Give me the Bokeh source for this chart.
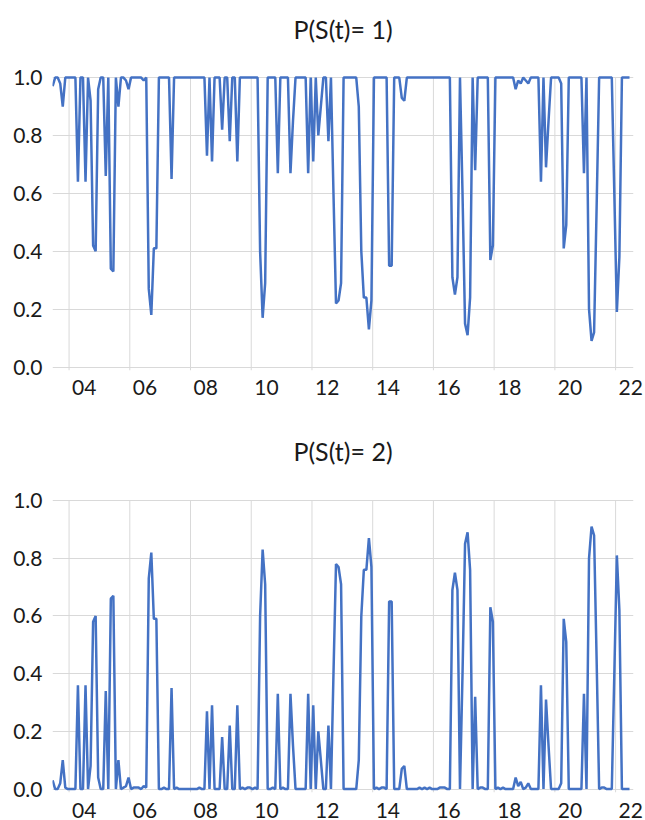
import pandas as pd
from bokeh.plotting import figure
from bokeh.layouts import column
from bokeh.models import Range1d, FixedTicker, NumeralTickFormatter
from bokeh.core.properties import value
from bokeh.embed import file_html
from bokeh.resources import INLINE

# Monthly observations, July 2003 .. July 2022
dates = pd.date_range("2003-07-01", periods=229, freq="MS")

p_state1 = [
    0.97, 1.0, 1.0, 0.98, 0.90, 1.0, 1.0, 1.0, 1.0, 1.0, 0.64, 1.0,
    1.0, 0.64, 1.0, 0.92, 0.42, 0.40, 0.96, 1.0, 1.0, 0.66, 1.0, 0.34,
    0.33, 1.0, 0.90, 1.0, 1.0, 0.99, 0.96, 1.0, 1.0, 1.0, 1.0, 1.0,
    0.99, 1.0, 0.27, 0.18, 0.41, 0.41, 1.0, 1.0, 1.0, 1.0, 1.0, 0.65,
    1.0, 1.0, 1.0, 1.0, 1.0, 1.0, 1.0, 1.0, 1.0, 1.0, 1.0, 1.0,
    1.0, 0.73, 1.0, 0.71, 1.0, 1.0, 1.0, 0.82, 1.0, 1.0, 0.78, 1.0,
    1.0, 0.71, 1.0, 1.0, 1.0, 1.0, 1.0, 1.0, 1.0, 1.0, 0.40, 0.17,
    0.29, 1.0, 1.0, 1.0, 1.0, 0.67, 1.0, 1.0, 1.0, 1.0, 0.67, 0.85,
    1.0, 1.0, 1.0, 1.0, 1.0, 0.67, 1.0, 0.71, 1.0, 0.80, 0.90, 1.0,
    1.0, 0.78, 1.0, 0.60, 0.22, 0.23, 0.29, 1.0, 1.0, 1.0, 1.0, 1.0,
    1.0, 0.90, 0.40, 0.24, 0.24, 0.13, 0.23, 1.0, 1.0, 1.0, 1.0, 1.0,
    1.0, 0.35, 0.35, 1.0, 1.0, 1.0, 0.93, 0.92, 1.0, 1.0, 1.0, 1.0,
    1.0, 1.0, 1.0, 1.0, 1.0, 1.0, 1.0, 1.0, 1.0, 1.0, 1.0, 1.0,
    1.0, 1.0, 0.31, 0.25, 0.31, 1.0, 0.60, 0.15, 0.11, 0.24, 1.0, 0.68,
    1.0, 1.0, 1.0, 1.0, 1.0, 0.37, 0.42, 1.0, 1.0, 1.0, 1.0, 1.0,
    1.0, 1.0, 1.0, 0.96, 0.99, 0.98, 1.0, 0.99, 0.98, 1.0, 1.0, 1.0,
    1.0, 0.64, 1.0, 0.69, 0.85, 1.0, 1.0, 1.0, 1.0, 0.98, 0.41, 0.49,
    1.0, 1.0, 1.0, 1.0, 1.0, 1.0, 0.67, 1.0, 0.20, 0.09, 0.12, 0.55,
    1.0, 1.0, 1.0, 1.0, 1.0, 1.0, 0.60, 0.19, 0.38, 1.0, 1.0, 1.0,
    1.0,
]

p_state2 = [
    0.03, 0.0, 0.0, 0.02, 0.10, 0.005, 0.0, 0.0, 0.0, 0.0, 0.36, 0.0,
    0.0, 0.36, 0.0, 0.08, 0.58, 0.60, 0.04, 0.0, 0.0, 0.34, 0.0, 0.66,
    0.67, 0.0, 0.10, 0.0, 0.005, 0.01, 0.04, 0.0, 0.005, 0.005, 0.005, 0.0,
    0.01, 0.005, 0.73, 0.82, 0.59, 0.59, 0.0, 0.0, 0.005, 0.0, 0.0, 0.35,
    0.0, 0.005, 0.0, 0.0, 0.0, 0.0, 0.0, 0.0, 0.0, 0.0, 0.005, 0.0,
    0.0, 0.27, 0.0, 0.29, 0.0, 0.0, 0.0, 0.18, 0.0, 0.0, 0.22, 0.0,
    0.0, 0.29, 0.0, 0.005, 0.0, 0.005, 0.005, 0.0, 0.005, 0.0, 0.60, 0.83,
    0.71, 0.0, 0.0, 0.005, 0.0, 0.33, 0.0, 0.005, 0.0, 0.0, 0.33, 0.15,
    0.0, 0.0, 0.0, 0.0, 0.0, 0.33, 0.0, 0.29, 0.0, 0.20, 0.10, 0.0,
    0.0, 0.22, 0.0, 0.40, 0.78, 0.77, 0.71, 0.0, 0.0, 0.0, 0.0, 0.0,
    0.0, 0.10, 0.60, 0.76, 0.76, 0.87, 0.77, 0.0, 0.005, 0.0, 0.005, 0.005,
    0.0, 0.65, 0.65, 0.0, 0.0, 0.0, 0.07, 0.08, 0.0, 0.0, 0.0, 0.0,
    0.0, 0.005, 0.0, 0.005, 0.0, 0.005, 0.0, 0.0, 0.0, 0.005, 0.005, 0.005,
    0.0, 0.0, 0.69, 0.75, 0.69, 0.0, 0.40, 0.85, 0.89, 0.76, 0.0, 0.32,
    0.0, 0.005, 0.005, 0.0, 0.0, 0.63, 0.58, 0.0, 0.005, 0.0, 0.005, 0.0,
    0.0, 0.0, 0.0, 0.04, 0.01, 0.025, 0.0, 0.005, 0.02, 0.0, 0.0, 0.0,
    0.0, 0.36, 0.0, 0.31, 0.15, 0.0, 0.0, 0.0, 0.0, 0.02, 0.59, 0.51,
    0.0, 0.0, 0.0, 0.0, 0.0, 0.0, 0.33, 0.0, 0.80, 0.91, 0.88, 0.45,
    0.0, 0.005, 0.005, 0.0, 0.0, 0.0, 0.40, 0.81, 0.62, 0.0, 0.0, 0.0,
    0.0,
]

titles = ["P(S(t)= 1)", "P(S(t)= 2)"]
grid_years = [2004, 2006, 2008, 2010, 2012, 2014, 2016, 2018, 2020, 2022]
xtick_labels = ["04", "06", "08", "10", "12", "14", "16", "18", "20", "22"]
ytick_values = [0.0, 0.2, 0.4, 0.6, 0.8, 1.0]

x_years = list(dates.year + (dates.month - 1.5) / 12.0)
label_pos = [yr + 0.5 for yr in grid_years]

LINE = "#4472C4"
GRID = "#d9d9d9"
FONT = "Lato"
TXT = "#1a1a1a"
X0, X1 = 2003.454, 2022.59
Y0 = -0.012


def make_panel(title, values, height, border_bottom, y_end, title_y, x_standoff):
    p = figure(width=645, height=height, output_backend="svg", toolbar_location=None,
               x_range=Range1d(X0, X1), y_range=Range1d(Y0, y_end),
               min_border_left=52, min_border_right=12,
               min_border_top=10, min_border_bottom=border_bottom)
    p.outline_line_color = None
    p.background_fill_color = "white"
    p.border_fill_color = "white"

    # vertical gridlines only across the 0..1 value band
    p.segment(x0=grid_years, y0=Y0, x1=grid_years, y1=1.0,
              line_color=GRID, line_width=1)
    p.line(x_years, values, line_color=LINE, line_width=2.5)
    p.text(x=[(X0 + X1) / 2], y=[title_y], text=[title],
           text_font=value(FONT), text_font_size=value("25px"),
           text_align="center", text_baseline="middle", text_color=TXT)

    p.xaxis.ticker = FixedTicker(ticks=label_pos)
    p.xaxis.major_label_overrides = {pos: lab for pos, lab in zip(label_pos, xtick_labels)}
    p.yaxis.ticker = FixedTicker(ticks=ytick_values)
    p.yaxis.formatter = NumeralTickFormatter(format="0.0")
    for ax in (p.xaxis, p.yaxis):
        ax.axis_line_color = None
        ax.major_tick_line_color = None
        ax.minor_tick_line_color = None
        ax.major_tick_out = 0
        ax.major_tick_in = 0
        ax.major_label_text_font = FONT
        ax.major_label_text_font_size = "21px"
        ax.major_label_text_color = TXT
    p.xaxis.major_label_standoff = x_standoff
    p.xaxis.major_label_text_line_height = 0.9
    p.yaxis.major_label_standoff = 10

    p.xgrid.grid_line_color = None
    p.ygrid.ticker = FixedTicker(ticks=ytick_values)
    p.ygrid.grid_line_color = GRID
    p.ygrid.grid_line_width = 1
    return p


top = make_panel(titles[0], p_state1, 410, 40, 1.2318, 1.1667, 9)
bottom = make_panel(titles[1], p_state2, 410, 27, 1.2778, 1.1729, 10)

layout = column(top, bottom)
open("out.html", "w").write(file_html(layout, INLINE))
